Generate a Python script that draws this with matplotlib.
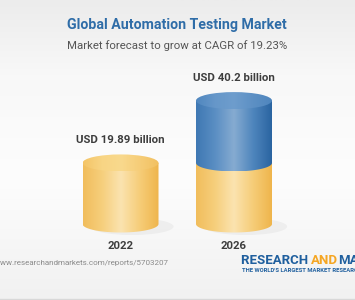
import numpy as np
import matplotlib
matplotlib.use("Agg")
import matplotlib.pyplot as plt
from matplotlib.colors import LinearSegmentedColormap
from matplotlib.patches import Ellipse
from matplotlib.path import Path

years = ["2022", "2026"]
values = [19.89, 40.2]
labels = ["USD 19.89 billion", "USD 40.2 billion"]
title = "Global Automation Testing Market"
subtitle = "Market forecast to grow at CAGR of 19.23%"
source = "www.researchandmarkets.com/reports/5703207"

plt.rcParams["font.family"] = ["Roboto", "DejaVu Sans"]

W, H = 355, 300
fig = plt.figure(figsize=(W / 100, H / 100), dpi=100)
ax = fig.add_axes([0, 0, 1, 1])
ax.set_axis_off()

# layout in pixels (from the top-left corner)
cx_px = [120.5, 234.0]
base_px = 224.0
px_per_unit_y = 3.07
px_per_unit_x = cx_px[1] - cx_px[0]
half_w = 38.0 / px_per_unit_x
ry = 8.5 / px_per_unit_y

xlim = (-cx_px[0] / px_per_unit_x, (W - cx_px[0]) / px_per_unit_x)
ylim = (-(H - base_px) / px_per_unit_y, base_px / px_per_unit_y)

yellow_body = ["#f1bd5c", "#f6cf7c", "#fbe3b0", "#f6cd78", "#efb54c"]
yellow_top = ["#f4c466", "#f8d584", "#f9d98d", "#f6cd78", "#f2c060"]
blue_body = ["#3f78b3", "#5a8ec3", "#86abd1", "#4f86bd", "#2a64a1"]
blue_top = ["#5087bf", "#6697c9", "#6e9dcd", "#5d90c4", "#4f86be"]


def ramp(colors):
    return LinearSegmentedColormap.from_list("c", colors)


# background
bg = np.linspace(0, 1, 200).reshape(-1, 1)
bg_cmap = LinearSegmentedColormap.from_list(
    "bg", [(0, "#ececec"), (0.25, "#f8f8f8"), (0.6, "#fdfdfd"), (1, "#f1f1f1")])
ax.imshow(bg, cmap=bg_cmap, extent=(0, 1, 0, 1), transform=ax.transAxes,
          aspect="auto", origin="upper", zorder=0)


def body(cx, y0, y1, colors, z):
    x0, x1 = cx - half_w, cx + half_w
    t = np.linspace(np.pi, 2 * np.pi, 60)
    verts = [(x0, y1), (x0, y0)]
    verts += [(cx + half_w * np.cos(a), y0 + ry * np.sin(a)) for a in t]
    verts += [(x1, y1), (x0, y1)]
    path = Path(verts)
    grad = np.linspace(0, 1, 256).reshape(1, -1)
    im = ax.imshow(grad, cmap=ramp(colors), extent=(x0, x1, y0 - ry, y1),
                   aspect="auto", zorder=z)
    im.set_clip_path(path, transform=ax.transData)


def top(cx, y, colors, z):
    e = Ellipse((cx, y), 2 * half_w, 2 * ry, facecolor="none", edgecolor="none")
    ax.add_patch(e)
    grad = np.linspace(0, 1, 256).reshape(1, -1)
    im = ax.imshow(grad, cmap=ramp(colors),
                   extent=(cx - half_w, cx + half_w, y - ry, y + ry),
                   aspect="auto", zorder=z)
    im.set_clip_path(e)


for i, v in enumerate(values):
    shadow = Ellipse((i + 0.1, -ry * 0.3), 2.2 * half_w, 2.0 * ry,
                     facecolor="#000000", alpha=0.04, edgecolor="none", zorder=1)
    ax.add_patch(shadow)
    base_v = min(v, values[0])
    body(i, 0, base_v, yellow_body, 2)
    if v > values[0]:
        body(i, values[0], v, blue_body, 3)
        top(i, v, blue_top, 4)
    else:
        top(i, v, yellow_top, 4)
    ax.annotate(labels[i], (i, v + ry), xytext=(0, 14), textcoords="offset pixels",
                ha="center", va="center", fontsize=8.2, fontweight="bold",
                color="#3d3d3d", zorder=5)
    ax.annotate(years[i], (i, 0), xytext=(0, -22), textcoords="offset pixels",
                ha="center", va="center", fontsize=8.2, fontweight="bold",
                color="#3d3d3d", zorder=5)

ax.set_xlim(*xlim)
ax.set_ylim(*ylim)

fig.text(177 / W, 1 - 25 / H, title, ha="center", va="center", fontsize=10.2,
         fontweight="bold", color="#2f6da8")
fig.text(177 / W, 1 - 46 / H, subtitle, ha="center", va="center", fontsize=8.2,
         color="#555555")
fig.text(-5 / W, 1 - 263 / H, source, ha="left", va="center", fontsize=5.8,
         color="#8a8a8a")

logo = fig.text(241 / W, 1 - 260 / H, "RESEARCH ", ha="left", va="center",
                fontsize=9.5, fontweight="bold", color="#1f5f9e")
fig.canvas.draw()
bb = logo.get_window_extent()
logo2 = fig.text(bb.x1 / W, 1 - 260 / H, "AND", ha="left", va="center",
                 fontsize=9.5, fontweight="bold", color="#f5a623")
fig.canvas.draw()
bb2 = logo2.get_window_extent()
fig.text(bb2.x1 / W, 1 - 260 / H, "MARKETS", ha="left", va="center",
         fontsize=9.5, fontweight="bold", color="#1f5f9e")
fig.text(242 / W, 1 - 270 / H, "THE WORLD'S LARGEST MARKET RESEARCH STORE",
         ha="left", va="center", fontsize=4.2, fontweight="bold", color="#1f5f9e")

fig.add_artist(plt.Line2D([0, 1], [1.5 / H, 1.5 / H], color="#d8d8d8", lw=1))

fig.savefig("out.png", dpi=100)
